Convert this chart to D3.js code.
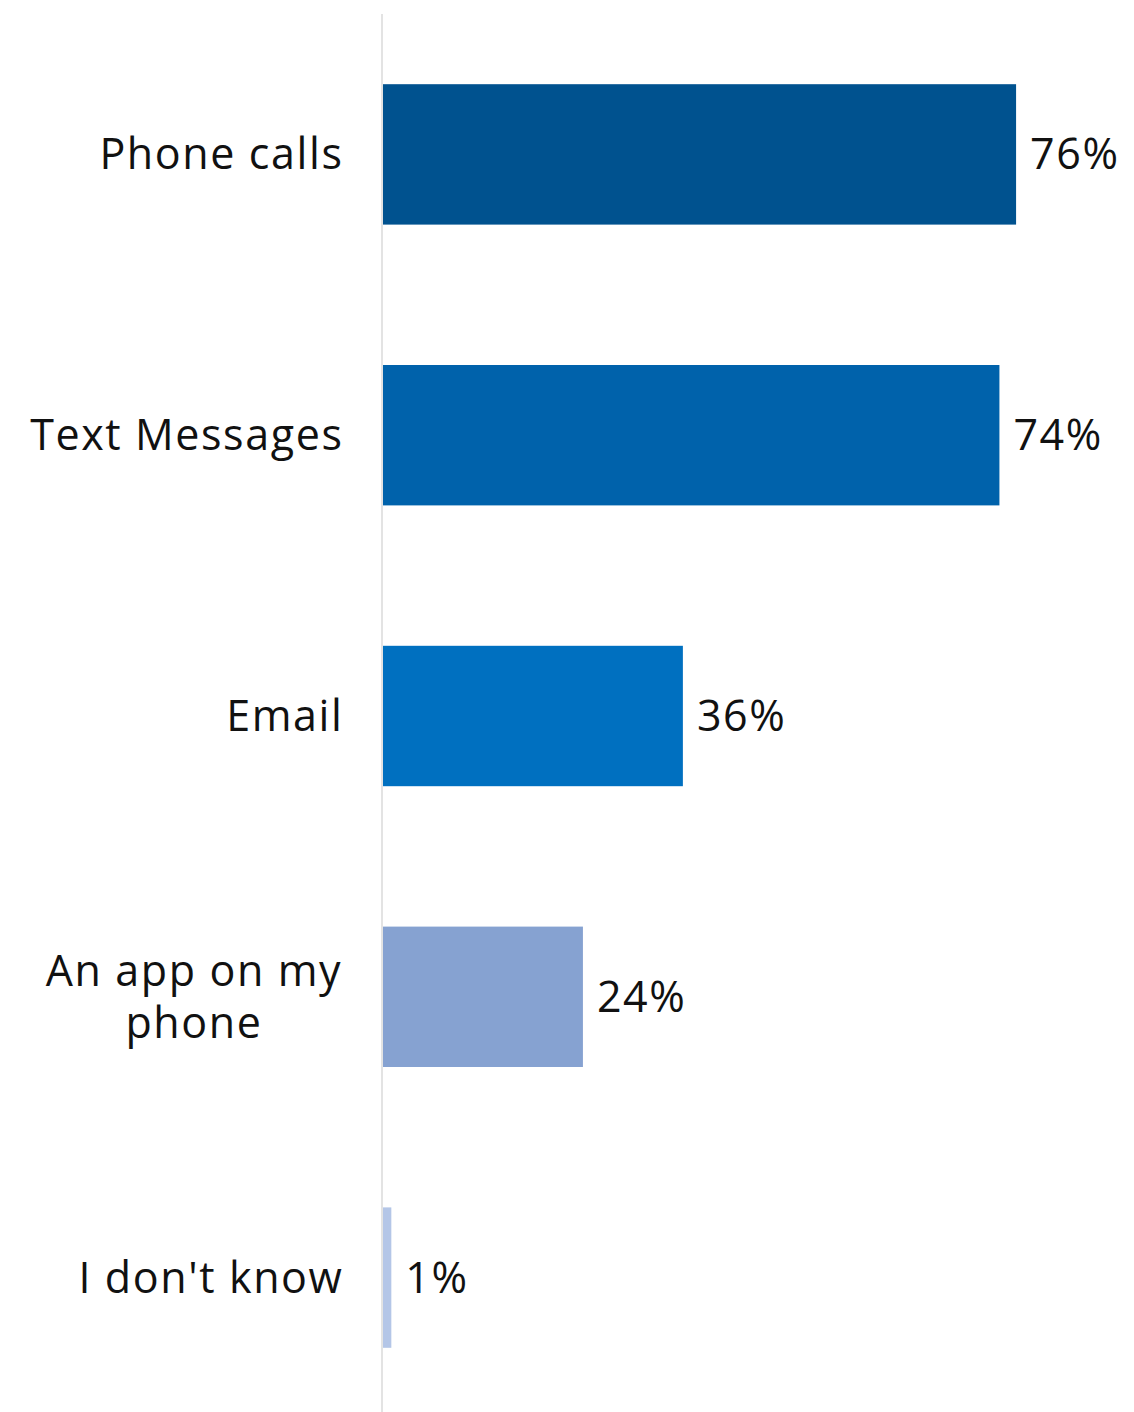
<!DOCTYPE html>
<html>
<head>
<meta charset="utf-8">
<script src="https://cdn.jsdelivr.net/npm/d3@7"></script>
<style>
  html, body { margin: 0; padding: 0; background: #ffffff; }
  svg { display: block; }
  text { font-family: "Open Sans", "Noto Sans", sans-serif; fill: #111111; }
</style>
</head>
<body>
<svg id="chart" width="1134" height="1412"></svg>
<script>
// Survey answers: how people prefer to be contacted
const categories = ["Phone calls", "Text Messages", "Email", "An app on my phone", "I don't know"];
const labelLines = [["Phone calls"], ["Text Messages"], ["Email"], ["An app on my", "phone"], ["I don't know"]];
const values = [76, 74, 36, 24, 1];
const valueLabels = ["76%", "74%", "36%", "24%", "1%"];
const barColors = ["#00528f", "#0062ab", "#0070c0", "#86a2d1", "#b4c6e7"];

const svg = d3.select("#chart");

const x = d3.scaleLinear().domain([0, 100]).range([383, 1216]);
const y = d3.scaleBand().domain(categories).range([14, 1418]).paddingInner(0.5).paddingOuter(0.25);

const fontSize = 43;
const spacing = 1.6;

// category axis line
svg.append("line")
  .attr("x1", x(0) - 1).attr("x2", x(0) - 1)
  .attr("y1", y.range()[0]).attr("y2", y.range()[1])
  .attr("stroke", "#e3e3e3").attr("stroke-width", 2);

// bars
svg.selectAll("rect.bar")
  .data(categories)
  .join("rect")
  .attr("class", "bar")
  .attr("x", x(0))
  .attr("y", d => y(d))
  .attr("width", (d, i) => x(values[i]) - x(0))
  .attr("height", y.bandwidth())
  .attr("fill", (d, i) => barColors[i]);

// value labels
svg.selectAll("text.value")
  .data(categories)
  .join("text")
  .attr("class", "value")
  .attr("x", (d, i) => x(values[i]) + 14)
  .attr("y", d => y(d) + y.bandwidth() / 2)
  .attr("dy", "0.35em")
  .attr("font-size", fontSize)
  .attr("letter-spacing", spacing)
  .text((d, i) => valueLabels[i]);

// category labels (multi-line labels are centred, single-line right-aligned)
const lineGap = 52;
categories.forEach((c, i) => {
  const lines = labelLines[i];
  const cy = y(c) + y.bandwidth() / 2;
  lines.forEach((ln, k) => {
    svg.append("text")
      .attr("class", "cat")
      .attr("font-size", fontSize)
      .attr("letter-spacing", spacing)
      .attr("text-anchor", lines.length > 1 ? "middle" : "end")
      .attr("x", lines.length > 1 ? 194 : 343.5)
      .attr("y", cy + (k - (lines.length - 1) / 2) * lineGap)
      .attr("dy", "0.35em")
      .text(ln);
  });
});
</script>
</body>
</html>
